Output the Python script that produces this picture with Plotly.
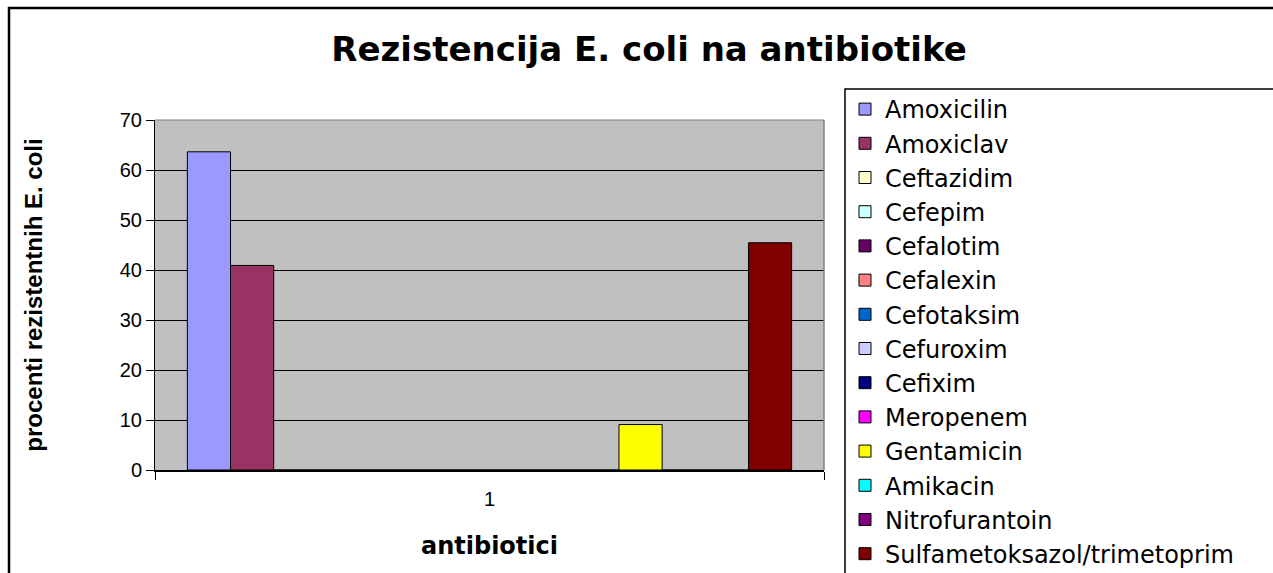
import plotly.graph_objects as go

# ---- data ----
categories = ["1"]
antibiotics = [
    "Amoxicilin", "Amoxiclav", "Ceftazidim", "Cefepim", "Cefalotim",
    "Cefalexin", "Cefotaksim", "Cefuroxim", "Cefixim", "Meropenem",
    "Gentamicin", "Amikacin", "Nitrofurantoin", "Sulfametoksazol/trimetoprim",
]
resistance = [63.64, 40.91, 0, 0, 0, 0, 0, 0, 0, 0, 9.09, 0, 0, 45.45]
colors = [
    "#9999FF", "#993366", "#FFFFCC", "#CCFFFF", "#660066", "#FF8080", "#0066CC",
    "#CCCCFF", "#000080", "#FF00FF", "#FFFF00", "#00FFFF", "#800080", "#800000",
]
title_text = "Rezistencija E. coli na antibiotike"
y_title = "procenti rezistentnih E. coli"
x_title = "antibiotici"

# ---- layout geometry (pixels) ----
W, H = 1273, 573
PL, PR, PT, PB = 155, 824, 120, 470


def px2x(px):
    return (px - PL) / (PR - PL)


def py2y(py):
    return (PB - py) / (PB - PT)


fig = go.Figure()
for name, val, col in zip(antibiotics, resistance, colors):
    fig.add_trace(go.Bar(
        x=categories, y=[val], name=name, legendgroup=name,
        marker=dict(color=col, line=dict(color="black", width=1)),
    ))

shapes = [
    # outer chart frame
    dict(type="rect", xref="paper", yref="paper",
         x0=px2x(9), x1=px2x(1300), y0=py2y(600), y1=py2y(8),
         line=dict(color="black", width=2.5), layer="above"),
    # legend frame
    dict(type="rect", xref="paper", yref="paper",
         x0=px2x(845), x1=px2x(1300), y0=py2y(600), y1=py2y(89),
         line=dict(color="black", width=1.5), layer="above"),
    # plot-area border top / right (grey)
    dict(type="line", xref="paper", yref="paper", x0=0, x1=1, y0=1, y1=1,
         line=dict(color="#808080", width=1), layer="above"),
    dict(type="line", xref="paper", yref="paper", x0=1, x1=1, y0=0, y1=1,
         line=dict(color="#808080", width=1.5), layer="above"),
]

fig.update_layout(
    width=W, height=H,
    margin=dict(l=PL, r=W - PR, t=PT, b=H - PB, autoexpand=False),
    paper_bgcolor="white", plot_bgcolor="#C0C0C0",
    barmode="group", bargap=1.5 / 15.5, bargroupgap=0,
    font=dict(family="Liberation Sans, Arial, sans-serif", color="black"),
    title=dict(
        text=title_text, xref="container", yref="container",
        x=649 / W, y=1 - 49 / H, xanchor="center", yanchor="middle",
        font=dict(family="DejaVu Sans", size=34, weight="bold", color="black"),
    ),
    legend=dict(
        x=px2x(845), y=py2y(87), xanchor="left", yanchor="top",
        bgcolor="rgba(0,0,0,0)", borderwidth=0, maxheight=2000,
        font=dict(family="DejaVu Sans", size=24, color="black"),
        traceorder="normal",
    ),
    xaxis=dict(
        type="category", showline=True, linecolor="black", linewidth=1.5,
        ticks="outside", ticklen=8, tickcolor="black", tickson="boundaries",
        showgrid=False, tickfont=dict(size=20), ticklabelstandoff=10,
        title=dict(text=x_title, standoff=28,
                   font=dict(family="DejaVu Sans", size=24, weight="bold")),
    ),
    yaxis=dict(
        range=[0, 70], dtick=10, tick0=0, showgrid=True, gridcolor="black",
        gridwidth=1, zeroline=False, showline=True, linecolor="black",
        linewidth=1, ticks="outside", ticklen=8, tickcolor="black",
        tickfont=dict(size=20),
        title=dict(text=y_title, standoff=70,
                   font=dict(family="Liberation Sans", size=24, weight="bold")),
    ),
    shapes=shapes,
    showlegend=True,
)

fig.write_html(
    "out.html",
    config={"displayModeBar": False},
    post_script="document.body.style.margin='0px';",
)
